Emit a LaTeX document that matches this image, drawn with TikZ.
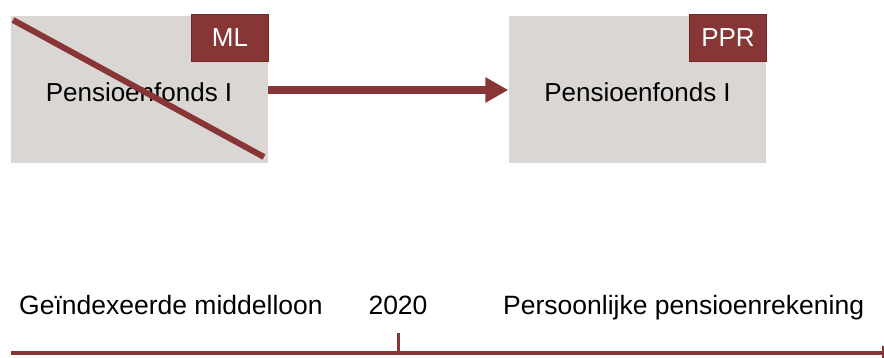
\documentclass[tikz,border=0pt]{standalone}
\usepackage{fontspec}
\setmainfont{Liberation Sans}
\usetikzlibrary{arrows.meta}
\definecolor{boxgray}{HTML}{D9D6D3}
\definecolor{wine}{HTML}{883536}
\definecolor{winedark}{HTML}{6E2829}
\tikzset{
  fund/.style={fill=boxgray, draw=none, minimum width=257pt, minimum height=147pt, inner sep=0pt},
  tag/.style={fill=wine, draw=winedark, line width=1.2pt, minimum width=77pt, minimum height=47pt, inner sep=0pt, text=white, font=\fontsize{26}{30}\selectfont},
  lbl/.style={font=\fontsize{26}{30}\selectfont, inner sep=0pt, text=black},
  tlbl/.style={font=\fontsize{26.5}{30}\selectfont, inner sep=0pt, text=black},
  bigarrow/.style={draw=wine, line width=8pt, -{Triangle[length=23pt,width=24pt]}},
  timeline/.style={draw=wine, line width=3.8pt, -{Triangle[length=14pt,width=14pt]}},
  cross/.style={draw=wine, line width=6pt},
}
\begin{document}
\begin{tikzpicture}[x=1pt,y=-1pt]
\useasboundingbox (0,0) rectangle (884,358);
\node[fund] (f1) at (139.5,89.5) {};
\node[fund] (f2) at (637,89.5) {};
\node[lbl] (t1) at (139,92) {Pensioenfonds I};
\node[lbl] (t2) at (637.5,92) {Pensioenfonds I};
\coordinate (c1) at (13,20);
\coordinate (c2) at (264,157);
\draw[cross] (c1) -- (c2);
\node[tag] (ml) at (230,38) {ML};
\node[tag] (ppr) at (728,38) {PPR};
\draw[bigarrow] (f1.east |- 0,90) -- (f2.west |- 0,90);
\node[tlbl, anchor=base west] (g) at (19,315) {Geïndexeerde middelloon};
\node[tlbl, anchor=base] (y) at (398,315) {2020};
\node[tlbl, anchor=base west] (p) at (503,315) {Persoonlijke pensioenrekening};
\coordinate (l0) at (11,353);
\coordinate (l1) at (896,353);
\coordinate (tk) at (398,333);
\draw[timeline] (l0) -- (l1);
\draw[draw=wine, line width=3pt] (tk) -- (tk |- l0);
\end{tikzpicture}
\end{document}
